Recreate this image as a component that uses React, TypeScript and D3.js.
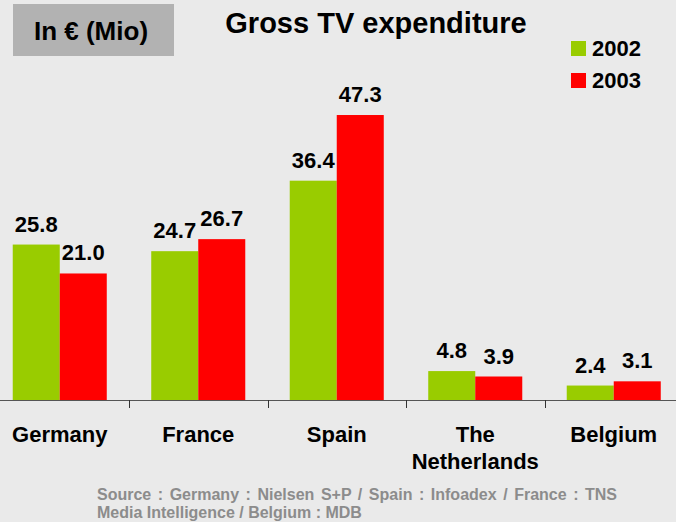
import React, { useEffect, useRef } from 'react';
import * as d3 from 'd3';

const countries = ['Germany', 'France', 'Spain', 'The Netherlands', 'Belgium'];
const years = ['2002', '2003'];
const values2002 = [25.8, 24.7, 36.4, 4.8, 2.4];
const values2003 = [21.0, 26.7, 47.3, 3.9, 3.1];
const colors = ['#99cc00', '#ff0000'];
const sourceLines = [
  'Source : Germany : Nielsen S+P / Spain : Infoadex / France : TNS',
  'Media Intelligence / Belgium : MDB',
];

const W = 676;
const H = 522;
const FONT = '"Liberation Sans", Arial, sans-serif';

const App: React.FC = () => {
  const svgRef = useRef<SVGSVGElement>(null);

  useEffect(() => {
    if (!svgRef.current) return;
    const svg = d3.select(svgRef.current);
    svg.selectAll('*').remove();

    const baseY = 400;
    const x0 = d3.scaleBand<string>().domain(countries).range([-9.5, 683]).padding(0);
    const x1 = d3.scaleBand<string>().domain(years).range([0, x0.bandwidth()]).paddingInner(0).paddingOuter(0.473);
    const y = d3.scaleLinear().domain([0, 60]).range([baseY, baseY - 6.025 * 60]);

    svg.append('rect').attr('width', W).attr('height', H).attr('fill', '#eaeaea');

    // unit box
    svg.append('rect').attr('x', 13).attr('y', 4).attr('width', 161).attr('height', 52).attr('fill', '#b2b2b2');
    svg.append('text').attr('x', 91).attr('y', 40).attr('text-anchor', 'middle')
      .attr('font-family', FONT).attr('font-weight', 'bold').attr('font-size', 26).text('In € (Mio)');

    // title
    svg.append('text').attr('x', 376).attr('y', 33).attr('text-anchor', 'middle')
      .attr('font-family', FONT).attr('font-weight', 'bold').attr('font-size', 29).text('Gross TV expenditure');

    // legend
    const leg = svg.append('g');
    years.forEach((yr, i) => {
      leg.append('rect').attr('x', 571).attr('y', 41 + i * 32).attr('width', 15).attr('height', 15).attr('fill', colors[i]);
      leg.append('text').attr('x', 592).attr('y', 56 + i * 31.5)
        .attr('font-family', FONT).attr('font-weight', 'bold').attr('font-size', 22).text(yr);
    });

    const series = [values2002, values2003];
    const groups = svg.selectAll('.grp').data(countries).enter().append('g')
      .attr('class', 'grp').attr('transform', d => `translate(${x0(d)},0)`);

    years.forEach((yr, s) => {
      groups.append('rect')
        .attr('x', x1(yr)!)
        .attr('y', (d, i) => y(series[s][i]))
        .attr('width', x1.bandwidth())
        .attr('height', (d, i) => baseY - y(series[s][i]))
        .attr('fill', colors[s]);
      groups.append('text')
        .attr('x', x1(yr)! + x1.bandwidth() / 2)
        .attr('y', (d, i) => y(series[s][i]) - 13)
        .attr('text-anchor', 'middle')
        .attr('font-family', FONT).attr('font-weight', 'bold').attr('font-size', 22)
        .text((d, i) => series[s][i].toFixed(1));
    });

    // axis
    svg.append('line').attr('x1', 0).attr('x2', W).attr('y1', baseY + 0.5).attr('y2', baseY + 0.5)
      .attr('stroke', '#555').attr('stroke-width', 1);
    countries.slice(1).forEach(c => {
      const bx = Math.round(x0(c)!) + 0.5;
      svg.append('line').attr('x1', bx).attr('x2', bx).attr('y1', baseY).attr('y2', baseY + 8)
        .attr('stroke', '#333').attr('stroke-width', 1);
    });

    // category labels
    countries.forEach(c => {
      const cx = x0(c)! + x0.bandwidth() / 2;
      const t = svg.append('text').attr('x', cx).attr('y', 442).attr('text-anchor', 'middle')
        .attr('font-family', FONT).attr('font-weight', 'bold').attr('font-size', 22);
      const parts = c === 'The Netherlands' ? ['The', 'Netherlands'] : [c];
      parts.forEach((p, i) => t.append('tspan').attr('x', cx).attr('dy', i === 0 ? 0 : 27).text(p));
    });

    // source
    sourceLines.forEach((line, i) => {
      svg.append('text').attr('x', 97).attr('y', 500 + i * 18)
        .attr('font-family', FONT).attr('font-weight', 'bold').attr('font-size', 16)
        .attr('fill', '#8c8c8c')
        .attr('word-spacing', i === 0 ? 2.1 : 0)
        .text(line);
    });
  }, []);

  return (
    <svg ref={svgRef} width={W} height={H} style={{ position: 'absolute', left: 0, top: 0, display: 'block' }} />
  );
};

export default App;
